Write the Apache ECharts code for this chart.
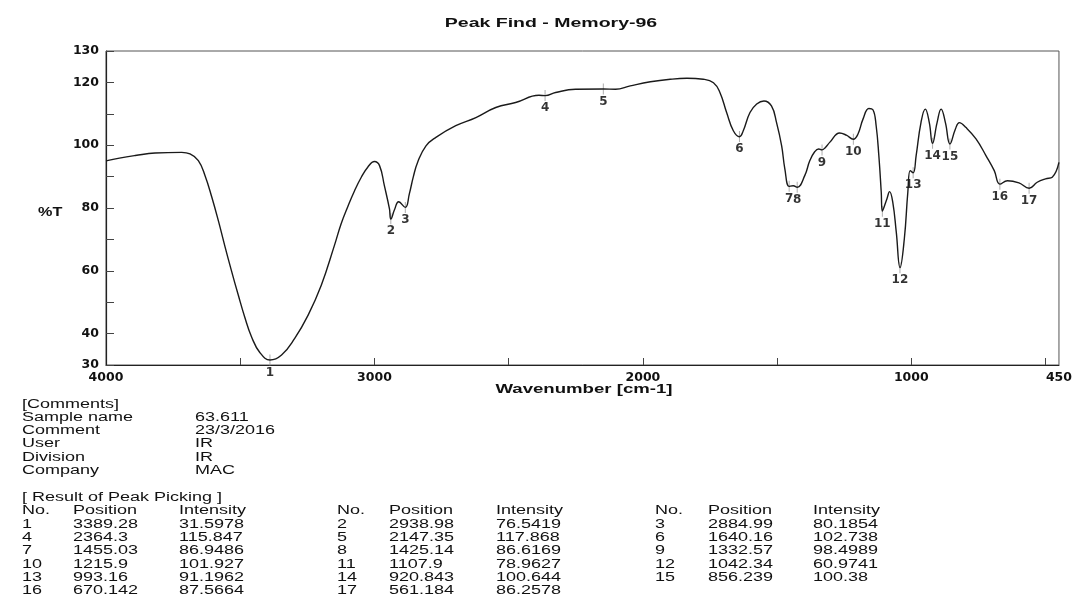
<!DOCTYPE html>
<html>
<head>
<meta charset="utf-8">
<title>Peak Find - Memory-96</title>
<script src="https://cdn.jsdelivr.net/npm/echarts@6/dist/echarts.min.js"></script>
<style>
html, body { margin: 0; padding: 0; background: #fff; }
#chart { width: 1075px; height: 595px; }
</style>
</head>
<body>
<div id="chart"></div>
<script>
// spectrum: wavenumber (cm-1) / %T
var waveNumbers = [4000, 3950, 3891, 3817, 3718, 3687, 3656, 3631, 3606, 3581, 3557, 3532, 3507, 3483, 3458, 3427,
	3389, 3346, 3297, 3247, 3198, 3149, 3124, 3099, 3074, 3049, 3025, 3000, 2981, 2963, 2944, 2939, 2925, 2910, 2885,
	2870, 2855, 2839, 2808, 2771, 2697, 2622, 2548, 2474, 2387, 2364, 2325, 2251, 2147, 2102, 2047, 1972, 1898,
	1836, 1775, 1737, 1713, 1688, 1663, 1640, 1626, 1601, 1576, 1549, 1521, 1502, 1483, 1471, 1455, 1440, 1425,
	1397, 1378, 1360, 1345, 1333, 1320, 1304, 1267, 1242, 1216, 1199, 1180, 1158, 1143, 1131, 1121, 1112, 1108,
	1091, 1081, 1069, 1056, 1042, 1026, 1013, 1004, 993, 982, 964, 948, 933, 921, 904, 889, 873, 856, 836, 821,
	796, 759, 722, 691, 670, 642, 599, 561, 531, 500, 475, 450];
var transmittance = [95.0, 95.9, 96.7, 97.5, 97.7, 97.2, 95.1, 90.3, 83.5, 75.8, 67.8, 59.8, 52.2, 45.2, 39.0, 34.0,
	31.6, 33.2, 38.5, 45.9, 55.4, 68.1, 75.0, 80.5, 85.5, 89.8, 93.0, 94.8, 93.5, 87.1, 79.7, 76.5, 79.5, 82.0, 80.2,
	84.5, 90.0, 94.6, 99.8, 102.5, 106.2, 108.8, 112.0, 113.6, 115.9, 115.8, 116.8, 117.8, 117.9, 117.8, 118.9, 120.2, 121.0,
	121.3, 121.0, 119.9, 116.8, 110.4, 104.6, 102.7, 104.6, 110.4, 113.1, 114.1, 112.5, 107.2, 99.8, 92.4, 86.9, 87.1, 86.6,
	90.3, 95.1, 97.9, 98.8, 98.5, 99.3, 100.9, 103.9, 103.2, 101.9, 103.5, 108.3, 111.7, 111.3, 106.2, 96.7, 85.0, 79.0,
	82.9, 85.2, 81.8, 72.3, 61.0, 70.2, 85.0, 91.9, 91.2, 96.7, 107.2, 111.5, 107.2, 100.6, 107.2, 111.5, 107.2, 100.4, 105.1, 107.2,
	105.6, 102.0, 96.7, 91.9, 87.6, 88.7, 88.0, 86.3, 88.2, 89.3, 89.8, 94.5];

// result of peak picking
var peakNo = ['1', '2', '3', '4', '5', '6', '7', '8', '9', '10', '11', '12', '13', '14', '15', '16', '17'];
var peakPosition = ['3389.28', '2938.98', '2884.99', '2364.3', '2147.35', '1640.16', '1455.03', '1425.14', '1332.57',
	'1215.9', '1107.9', '1042.34', '993.16', '920.843', '856.239', '670.142', '561.184'];
var peakIntensity = ['31.5978', '76.5419', '80.1854', '115.847', '117.868', '102.738', '86.9486', '86.6169', '98.4989',
	'101.927', '78.9627', '60.9741', '91.1962', '100.644', '100.38', '87.5664', '86.2578'];

// comments block
var commentKeys = ['Sample name', 'Comment', 'User', 'Division', 'Company'];
var commentValues = ['63.611', '23/3/2016', 'IR', 'IR', 'MAC'];

// axis ticks / labels
var xLabelValues = [4000, 3000, 2000, 1000, 450];
var xTickValues = [3500, 3000, 2500, 2000, 1500, 1000, 500];
var yLabelValues = [30, 40, 60, 80, 100, 120, 130];

var scanFont = '"Liberation Sans", Arial, sans-serif';
var numFont = '"DejaVu Sans", sans-serif';

function txt(x, y, s, size, weight, sx, align) {
	return {
		type: 'text', x: x, y: y, scaleX: sx, silent: true,
		style: {
			text: s, fill: '#111',
			font: (weight || 'normal') + ' ' + size + 'px ' + scanFont,
			align: align || 'left', verticalAlign: 'middle',
			textAlign: align || 'left', textVerticalAlign: 'middle'
		}
	};
}

var lineData = [], peakData = [];
for (var i = 0; i < waveNumbers.length; i++) {
	lineData.push([waveNumbers[i], transmittance[i]]);
}
for (var i = 0; i < peakNo.length; i++) {
	peakData.push([parseFloat(peakPosition[i]), parseFloat(peakIntensity[i]), peakNo[i]]);
}

// texts round the chart
var graphics = [];
graphics.push(txt(551, 23, 'Peak Find - Memory-96', 13, 'bold', 1.5, 'center'));
graphics.push(txt(38, 213, '%T', 12, 'bold', 1.35));
graphics.push(txt(584, 390, 'Wavenumber [cm-1]', 12, 'bold', 1.55, 'center'));
graphics.push(txt(22, 405, '[Comments]', 12, 'normal', 1.5));
var commentY = [418, 431, 444, 458, 471];
for (var i = 0; i < commentKeys.length; i++) {
	graphics.push(txt(22, commentY[i], commentKeys[i], 12, 'normal', 1.5));
	graphics.push(txt(195, commentY[i], commentValues[i], 12, 'normal', 1.5));
}
graphics.push(txt(22, 498, '[ Result of Peak Picking ]', 12, 'normal', 1.5));
var colNo = [22, 337, 655], colPos = [73, 389, 708], colInt = [179, 496, 813];
for (var c = 0; c < 3; c++) {
	graphics.push(txt(colNo[c], 511, 'No.', 12, 'normal', 1.5));
	graphics.push(txt(colPos[c], 511, 'Position', 12, 'normal', 1.5));
	graphics.push(txt(colInt[c], 511, 'Intensity', 12, 'normal', 1.5));
}
for (var i = 0; i < peakNo.length; i++) {
	var row = Math.floor(i / 3), c = i % 3;
	var y = 524.5 + row * 13.3;
	graphics.push(txt(colNo[c], y, peakNo[i], 12, 'normal', 1.5));
	graphics.push(txt(colPos[c], y, peakPosition[i], 12, 'normal', 1.5));
	graphics.push(txt(colInt[c], y, peakIntensity[i], 12, 'normal', 1.5));
}

var chart = echarts.init(document.getElementById('chart'));
var option = {
	backgroundColor: '#fff',
	animation: false,
	grid: {
		left: 106, right: 15, top: 51, bottom: 230,
		show: true, borderColor: '#555', borderWidth: 1
	},
	xAxis: {
		type: 'value', min: 450, max: 4000, inverse: true,
		axisLine: { lineStyle: { color: '#222', width: 1.2 } },
		axisTick: { inside: true, length: 7, customValues: xTickValues, lineStyle: { color: '#444' } },
		axisLabel: {
			customValues: xLabelValues, margin: 6,
			formatter: function (v) { return String(v); },
			color: '#111', fontFamily: numFont, fontWeight: 'bold', fontSize: 12.5
		},
		splitLine: { show: false }
	},
	yAxis: {
		type: 'value', min: 30, max: 130, interval: 10,
		axisLine: { show: true, lineStyle: { color: '#222', width: 1.2 } },
		axisTick: { inside: true, length: 8, lineStyle: { color: '#444' } },
		axisLabel: {
			customValues: yLabelValues, margin: 7,
			color: '#111', fontFamily: numFont, fontWeight: 'bold', fontSize: 12.5
		},
		splitLine: { show: false }
	},
	series: [
		{
			type: 'scatter',
			data: peakData,
			symbol: 'rect',
			symbolSize: [1, 11],
			itemStyle: { color: '#999' },
			label: {
				show: true, position: 'bottom', distance: 1,
				formatter: function (p) { return p.value[2]; },
				color: '#000', fontFamily: numFont, fontWeight: 'bold', fontSize: 12
			},
			z: 1
		},
		{
			type: 'line',
			data: lineData,
			showSymbol: false,
			smooth: 0.45,
			lineStyle: { color: '#1a1a1a', width: 1.4 },
			z: 2
		}
	],
	graphic: graphics
};
chart.setOption(option);
</script>
</body>
</html>
